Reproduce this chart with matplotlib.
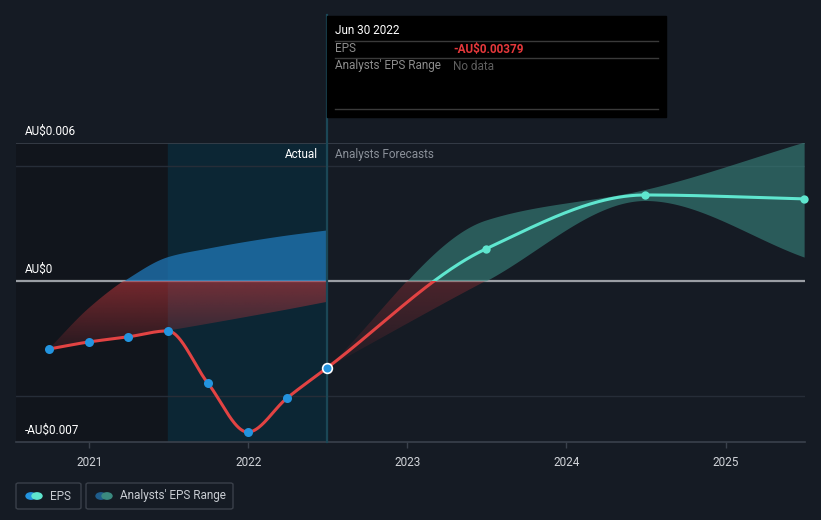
import numpy as np
import pandas as pd
import matplotlib
matplotlib.use("Agg")
import matplotlib.pyplot as plt
import matplotlib.dates as mdates
from matplotlib.patches import Rectangle, FancyBboxPatch, Circle

plt.rcParams['font.family'] = ['Roboto', 'DejaVu Sans']

# EPS actual (AU$)
eps_dates = ["2020-09-30", "2020-12-31", "2021-03-31", "2021-06-30",
             "2021-09-30", "2021-12-31", "2022-03-31", "2022-06-30"]
eps_values = [-0.00296, -0.00265, -0.00243, -0.00217,
              -0.00443, -0.00657, -0.00509, -0.00379]

# analysts' forecast EPS
fc_dates = ["2022-06-30", "2023-06-30", "2024-06-30", "2025-06-30"]
fc_values = [-0.00379, 0.00139, 0.00374, 0.00357]
fc_low = [-0.00379, 0.00000, 0.00350, 0.00104]
fc_high = [-0.00379, 0.00265, 0.00398, 0.00604]

# past analysts' range
past_dates = ["2020-09-30", "2020-12-31", "2021-03-31", "2021-06-30",
              "2021-09-30", "2021-12-31", "2022-03-31", "2022-06-30"]
past_low = [-0.00296, -0.00270, -0.00244, -0.00216,
            -0.00186, -0.00155, -0.00124, -0.00091]
past_high = [-0.00296, -0.00118, 0.00013, 0.00106,
             0.00143, 0.00174, 0.00200, 0.00222]

years = [2021, 2022, 2023, 2024, 2025]
ytick_labels = {0.006: "AU$0.006", 0.0: "AU$0", -0.007: "-AU$0.007"}

W, H = 821, 520
BG = "#151b24"


def px(x, y):
    return x / W, 1 - y / H


def dnum(lst):
    return mdates.date2num(pd.to_datetime(lst))


def pchip(x, y, n=300):
    x = np.asarray(x, float)
    y = np.asarray(y, float)
    h = np.diff(x)
    d = np.diff(y) / h
    m = np.zeros_like(y)
    m[0], m[-1] = d[0], d[-1]
    for k in range(1, len(x) - 1):
        if d[k - 1] * d[k] > 0:
            w1 = 2 * h[k] + h[k - 1]
            w2 = h[k] + 2 * h[k - 1]
            m[k] = (w1 + w2) / (w1 / d[k - 1] + w2 / d[k])
    xs = np.linspace(x[0], x[-1], n)
    i = np.clip(np.searchsorted(x, xs) - 1, 0, len(x) - 2)
    t = (xs - x[i]) / h[i]
    h00 = 2 * t**3 - 3 * t**2 + 1
    h10 = t**3 - 2 * t**2 + t
    h01 = -2 * t**3 + 3 * t**2
    h11 = t**3 - t**2
    ys = h00 * y[i] + h10 * h[i] * m[i] + h01 * y[i + 1] + h11 * h[i] * m[i + 1]
    return xs, ys


fig = plt.figure(figsize=(W / 100, H / 100), dpi=100, facecolor=BG)
ax = fig.add_axes([16 / W, 1 - 442 / H, (805 - 16) / W, (442 - 143) / H])
ax.set_facecolor(BG)

x0 = mdates.date2num(pd.Timestamp("2020-07-17"))
x1 = mdates.date2num(pd.Timestamp("2025-07-02"))
ax.set_xlim(x0, x1)
ax.set_ylim(-0.007, 0.006)

now = dnum(["2022-06-30"])[0]
split = dnum(["2021-06-30"])[0]
ax.axvspan(x0, split, color="#11151c", zorder=0)
ax.axvspan(split, now, color="#0c2634", zorder=0)

# grid
for v in [0.005, -0.005]:
    ax.axhline(v, color="#262d38", lw=1, zorder=1)
ax.axhline(0.006, color="#3a414c", lw=1.2, zorder=1)
ax.axhline(0, color="#9a9ea4", lw=1.6, zorder=2)

# vertical "now" line up to tooltip
ax.axvline(now, ymin=0, ymax=(442 - 15) / (442 - 143), color="#1b4756",
           lw=1.6, clip_on=False, zorder=3)


def gradient_fill(xs, lo, hi, rgb, a_top, a_bot, ytop, ybot):
    poly = ax.fill_between(xs, lo, hi, color="none", lw=0)
    grad = np.zeros((100, 2, 4))
    grad[..., :3] = matplotlib.colors.to_rgb(rgb)
    grad[..., 3] = np.linspace(a_top, a_bot, 100)[:, None]
    im = ax.imshow(grad, extent=[xs[0], xs[-1], ybot, ytop], aspect="auto",
                   origin="upper", zorder=2, interpolation="bilinear")
    im.set_clip_path(poly.get_paths()[0], transform=ax.transData)


# past analysts' range
pxs, plo = pchip(dnum(past_dates), past_low)
_, phi = pchip(dnum(past_dates), past_high)
ax.fill_between(pxs, np.maximum(plo, 0), np.maximum(phi, 0),
                color="#1f78b8", alpha=0.75, lw=0, zorder=2)
gradient_fill(pxs, plo, np.minimum(phi, 0), "#c8383c", 0.55, 0.1, 0, -0.0031)

# forecast range
fxs, flo = pchip(dnum(fc_dates), fc_low)
_, fhi = pchip(dnum(fc_dates), fc_high)
ax.fill_between(fxs, np.maximum(flo, 0), np.maximum(fhi, 0),
                color="#3a8a82", alpha=0.58, lw=0, zorder=2)
gradient_fill(fxs, flo, np.minimum(fhi, 0), "#c8383c", 0.3, 0.05, 0, -0.0039)

# actual EPS line
axs, ays = pchip(dnum(eps_dates), eps_values)
ax.plot(axs, ays, color="#e24343", lw=2.2, zorder=4, solid_capstyle="round")

# forecast line, red below zero, teal above
fl_x, fl_y = pchip(dnum(fc_dates), fc_values)
red_part, = ax.plot(fl_x, fl_y, color="#e24343", lw=2.2, zorder=4)
teal_part, = ax.plot(fl_x, fl_y, color="#5fe6cf", lw=2.2, zorder=4)
red_part.set_clip_path(Rectangle((x0, -0.007), x1 - x0, 0.007, transform=ax.transData))
teal_part.set_clip_path(Rectangle((x0, 0), x1 - x0, 0.006, transform=ax.transData))

ax.plot(dnum(eps_dates)[:-1], eps_values[:-1], "o", color="#2394df",
        ms=6.5, mec="none", zorder=5)
ax.plot(dnum(eps_dates)[-1:], eps_values[-1:], "o", color="#2394df",
        ms=7, mec="white", mew=1.2, zorder=5)
ax.plot(dnum(fc_dates)[1:], fc_values[1:], "o", color="#5fe6cf",
        ms=6, mec="none", zorder=5, clip_on=False)

# axes styling
for s in ["top", "left", "right"]:
    ax.spines[s].set_visible(False)
ax.spines["bottom"].set_color("#3a414c")
ax.spines["bottom"].set_linewidth(1.2)
ax.set_yticks([])
ax.set_xticks(dnum([f"{y}-01-01" for y in years]))
ax.set_xticklabels([str(y) for y in years])
ax.tick_params(axis="x", colors="#3a414c", labelcolor="#d0d3d8",
               labelsize=8.5, length=4, width=1, pad=6)

for v, lab in ytick_labels.items():
    ax.annotate(lab, (0.011, v), xycoords=ax.get_yaxis_transform(),
                xytext=(0, 8.2), textcoords="offset points",
                color="#ffffff", fontsize=8.5, va="center", ha="left",
                zorder=6)

ax.text(*px(318, 154), "Actual", transform=fig.transFigure, color="#ffffff",
        fontsize=8.5, ha="right", va="center")
ax.text(*px(335, 154), "Analysts Forecasts", transform=fig.transFigure,
        color="#8a9099", fontsize=8.5, ha="left", va="center")

# tooltip
tx, ty = px(327, 117)
fig.patches.append(Rectangle((tx, ty), (666 - 327) / W, (117 - 16) / H,
                             transform=fig.transFigure, color="#000000", zorder=10))
for yy in [41, 58, 109]:
    fig.lines.append(plt.Line2D([335 / W, 658 / W], [1 - yy / H] * 2,
                                transform=fig.transFigure, color="#3a3a3a",
                                lw=1, zorder=11))
fig.text(*px(335, 31), "Jun 30 2022", color="#ffffff", fontsize=8.5,
         va="center", zorder=12)
fig.text(*px(335, 49), "EPS", color="#8c8c8c", fontsize=8.5, va="center", zorder=12)
fig.text(*px(453, 49), "-AU$0.00379", color="#e5383b", fontsize=8.5,
         va="center", fontweight="bold", zorder=12)
fig.text(*px(335, 66), "Analysts' EPS Range", color="#8c8c8c", fontsize=8.5,
         va="center", zorder=12)
fig.text(*px(453, 66), "No data", color="#5e5e5e", fontsize=8.5,
         va="center", zorder=12)

# legend
legend_items = [("EPS", "#2394df", "#5fe6cf", 16, 81),
                ("Analysts' EPS Range", "#1f5d8c", "#3b8a80", 86, 233)]
for label, c1, c2, lx0, lx1 in legend_items:
    bx, by = px(lx0, 509)
    fig.patches.append(FancyBboxPatch((bx, by), (lx1 - lx0) / W, 26 / H,
                                      boxstyle="round,pad=0,rounding_size=0.003",
                                      transform=fig.transFigure, fc="none",
                                      ec="#3a404a", lw=1))
    for dx, c in [(15, c1), (21, c2)]:
        cx, cy = px(lx0 + dx, 496)
        fig.patches.append(Circle((cx, cy), 5 / W, transform=fig.transFigure,
                                  color=c))
    fig.text(*px(lx0 + 34, 496), label, color="#c8ccd2", fontsize=8.5,
             va="center")

fig.savefig("out.png", dpi=100, facecolor=BG)
